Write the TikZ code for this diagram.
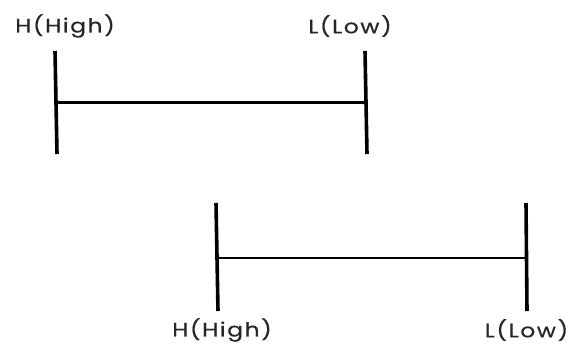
\documentclass[tikz,border=0pt]{standalone}
\usepackage{fontspec}
\setmainfont{Poppins}
\newfontfamily\lblfont[FakeStretch=1.2,LetterSpace=8,FakeBold=0.4]{Poppins}
\begin{document}
\begin{tikzpicture}[x=1pt,y=-1pt,
  bar/.style={line width=3.6pt},
  span/.style={line width=2.2pt},
  lbl/.style={font=\lblfont\fontsize{19.5}{22}\selectfont, text=black!85, inner sep=0pt}]
\useasboundingbox (0,0) rectangle (575,346);
% top
\coordinate (t1a) at (55,51); \coordinate (t1b) at (57,154);
\coordinate (t2a) at (365,51); \coordinate (t2b) at (367,154);
\coordinate (t1m) at (56.5,102.5); \coordinate (t2m) at (365.5,102.5);
\draw[bar] (t1a) -- (t1b);
\draw[bar] (t2a) -- (t2b);
\draw[span] (t1m) -- (t2m);
\node[lbl] (th) at (65,26) {H(High)};
\node[lbl] (tl) at (350,26) {L(Low)};
% bottom
\coordinate (b1a) at (216,203); \coordinate (b1b) at (218,311);
\coordinate (b2a) at (526,203); \coordinate (b2b) at (527,311);
\coordinate (b1m) at (217,258); \coordinate (b2m) at (526.5,258);
\draw[bar] (b1a) -- (b1b);
\draw[bar] (b2a) -- (b2b);
\draw[span] (b1m) -- (b2m);
\node[lbl] (bh) at (222,330) {H(High)};
\node[lbl] (bl) at (526.5,330) {L(Low)};
\end{tikzpicture}
\end{document}
